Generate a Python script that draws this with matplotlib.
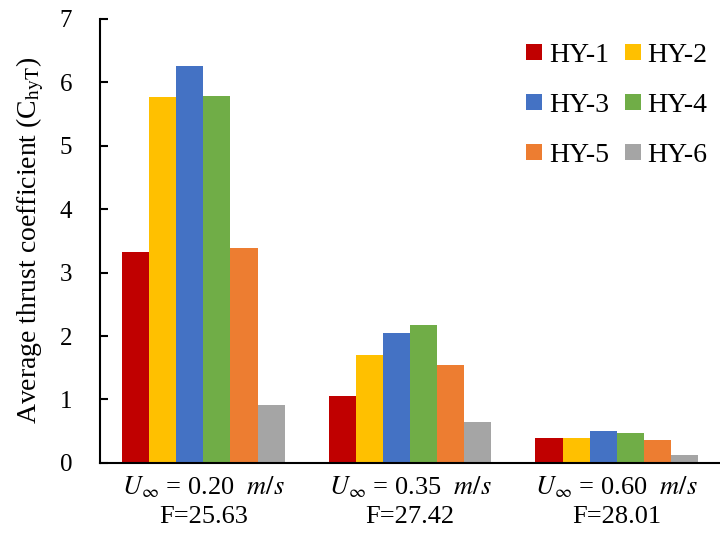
import matplotlib
matplotlib.use('Agg')
import numpy as np
import matplotlib.pyplot as plt

plt.rcParams['font.family'] = ['Liberation Serif', 'DejaVu Serif']
plt.rcParams['mathtext.fontset'] = 'stix'

# data
groups = ['$U_\\infty$ = 0.20  $m/s$\nF=25.63',
          '$U_\\infty$ = 0.35  $m/s$\nF=27.42',
          '$U_\\infty$ = 0.60  $m/s$\nF=28.01']
series = ['HY-1', 'HY-2', 'HY-3', 'HY-4', 'HY-5', 'HY-6']
hy1 = [3.33, 1.06, 0.40]
hy2 = [5.76, 1.70, 0.40]
hy3 = [6.26, 2.04, 0.495]
hy4 = [5.79, 2.17, 0.47]
hy5 = [3.38, 1.54, 0.36]
hy6 = [0.92, 0.64, 0.13]
colors = ['#C00000', '#FFC000', '#4472C4', '#70AD47', '#ED7D31', '#A5A5A5']

values = [hy1, hy2, hy3, hy4, hy5, hy6]

fig = plt.figure(figsize=(7.2, 5.37), dpi=100)
ax = fig.add_axes([0.139, 0.138, 0.861, 0.827])

x = np.arange(len(groups))
w = 0.131
bars = []
for k in range(len(series)):
    b = ax.bar(x + (k - 2.5) * w, values[k], w, color=colors[k], label=series[k])
    bars.append(b)

ax.set_xlim(-0.5, 2.5)
ax.set_ylim(0, 7)
ax.set_yticks(range(0, 8))
ax.set_xticks(x)
ax.set_xticklabels(groups, fontsize=19, linespacing=1.4)
ax.tick_params(axis='x', length=0, pad=8)
ax.tick_params(axis='y', direction='in', length=6, width=1.5, labelsize=18, pad=20)

for s in ['top', 'right']:
    ax.spines[s].set_visible(False)
ax.spines['left'].set_linewidth(1.5)
ax.spines['bottom'].set_linewidth(1.5)

ax.set_ylabel('Average thrust coefficient (C$_{\\mathrm{hyT}}$)', fontsize=20, labelpad=10)

# legend filled row-wise: HY-1 HY-2 / HY-3 HY-4 / HY-5 HY-6
order = [0, 2, 4, 1, 3, 5]
leg = ax.legend([bars[i] for i in order], [series[i] for i in order],
                ncol=2, loc='upper right', bbox_to_anchor=(0.98, 0.946), frameon=False,
                fontsize=20, handlelength=0.55, handleheight=0.55, handletextpad=0.25,
                columnspacing=0.6, labelspacing=0.9, borderpad=0, borderaxespad=0)

fig.savefig('out.png', dpi=100)
plt.close(fig)
